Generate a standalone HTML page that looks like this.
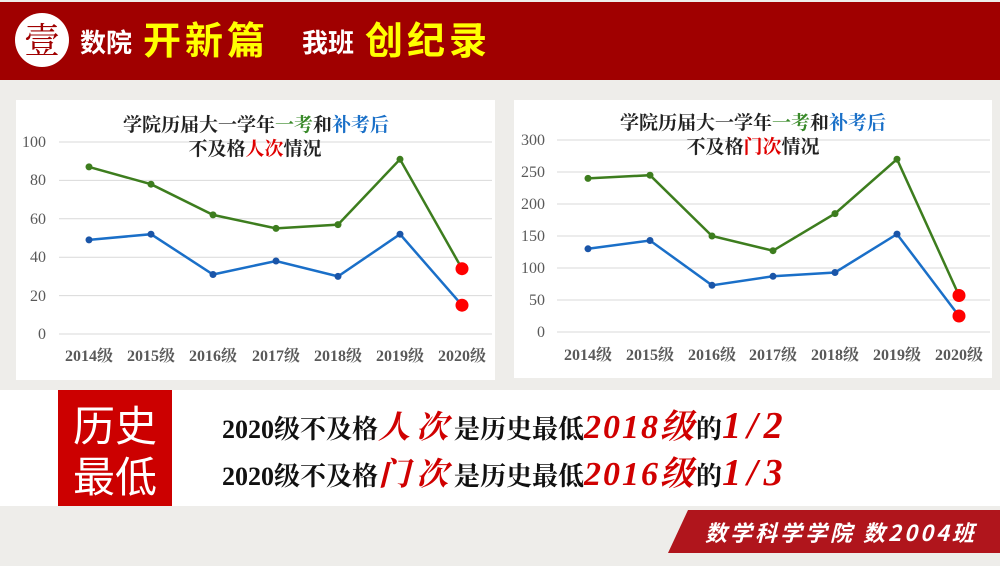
<!DOCTYPE html>
<html><head><meta charset="utf-8"><style>
body{margin:0;width:1000px;height:561px;overflow:hidden;background:#eeedea;font-family:"Liberation Serif","Noto Serif CJK SC",serif}
</style></head><body>
<svg width="1000" height="561" viewBox="0 0 1000 561" xmlns="http://www.w3.org/2000/svg">
<rect x="0" y="0" width="1000" height="561" fill="#eeedea"/>
<rect x="0" y="2" width="1000" height="78" fill="#a00000"/>
<circle cx="42" cy="40" r="27" fill="#fff"/>
<text x="42" y="53" font-size="36" text-anchor="middle" fill="#a00000" font-family="Noto Serif CJK SC,serif">壹</text>
<text x="80" y="52" font-size="26" fill="#fff" font-weight="bold" font-family="Noto Sans CJK SC,sans-serif">数院</text>
<text x="143" y="54" font-size="38" fill="#ffff00" font-weight="bold" font-family="Noto Sans CJK SC,sans-serif" letter-spacing="4">开新篇</text>
<text x="302" y="52" font-size="26" fill="#fff" font-weight="bold" font-family="Noto Sans CJK SC,sans-serif">我班</text>
<text x="365" y="54" font-size="38" fill="#ffff00" font-weight="bold" font-family="Noto Sans CJK SC,sans-serif" letter-spacing="4">创纪录</text>

<!-- left chart -->
<rect x="16" y="100" width="479" height="280" fill="#fff"/>
<g stroke="#d9d9d9" stroke-width="1">
<line x1="59" x2="492" y1="142" y2="142"/><line x1="59" x2="492" y1="180.4" y2="180.4"/><line x1="59" x2="492" y1="218.8" y2="218.8"/><line x1="59" x2="492" y1="257.2" y2="257.2"/><line x1="59" x2="492" y1="295.6" y2="295.6"/><line x1="59" x2="492" y1="334" y2="334"/>
</g>
<g font-size="16" fill="#595959" text-anchor="end">
<text x="46" y="147">100</text><text x="46" y="185">80</text><text x="46" y="224">60</text><text x="46" y="262">40</text><text x="46" y="301">20</text><text x="46" y="339">0</text>
</g>
<g font-size="16" fill="#595959" text-anchor="middle" font-weight="bold">
<text x="89" y="361">2014级</text><text x="151" y="361">2015级</text><text x="213" y="361">2016级</text><text x="276" y="361">2017级</text><text x="338" y="361">2018级</text><text x="400" y="361">2019级</text><text x="462" y="361">2020级</text>
</g>
<text x="256" y="131" font-size="19" font-weight="bold" text-anchor="middle" fill="#222">学院历届大一学年<tspan fill="#3a8a2a">一考</tspan>和<tspan fill="#1a70c8">补考后</tspan></text>
<text x="255" y="155" font-size="19" font-weight="bold" text-anchor="middle" fill="#222">不及格<tspan fill="#e00000">人次</tspan>情况</text>
<polyline fill="none" stroke="#3d7d1e" stroke-width="2.5" points="89,166.9 151,184.2 213,214.9 276,228.4 338,224.6 400,159.3 462,268.7"/>
<polyline fill="none" stroke="#1a6fc8" stroke-width="2.5" points="89,239.9 151,234.2 213,274.5 276,261 338,276.4 400,234.2 462,305.2"/>
<g fill="#3d7d1e"><circle cx="89" cy="166.9" r="3.5"/><circle cx="151" cy="184.2" r="3.5"/><circle cx="213" cy="214.9" r="3.5"/><circle cx="276" cy="228.4" r="3.5"/><circle cx="338" cy="224.6" r="3.5"/><circle cx="400" cy="159.3" r="3.5"/></g>
<g fill="#1a55a8"><circle cx="89" cy="239.9" r="3.5"/><circle cx="151" cy="234.2" r="3.5"/><circle cx="213" cy="274.5" r="3.5"/><circle cx="276" cy="261" r="3.5"/><circle cx="338" cy="276.4" r="3.5"/><circle cx="400" cy="234.2" r="3.5"/></g>
<circle cx="462" cy="268.7" r="6.5" fill="#f00"/><circle cx="462" cy="305.2" r="6.5" fill="#f00"/>

<!-- right chart -->
<rect x="514" y="100" width="478" height="278" fill="#fff"/>
<g stroke="#d9d9d9" stroke-width="1">
<line x1="557" x2="990" y1="140" y2="140"/><line x1="557" x2="990" y1="172" y2="172"/><line x1="557" x2="990" y1="204" y2="204"/><line x1="557" x2="990" y1="236" y2="236"/><line x1="557" x2="990" y1="268" y2="268"/><line x1="557" x2="990" y1="300" y2="300"/><line x1="557" x2="990" y1="332" y2="332"/>
</g>
<g font-size="16" fill="#595959" text-anchor="end">
<text x="545" y="145">300</text><text x="545" y="177">250</text><text x="545" y="209">200</text><text x="545" y="241">150</text><text x="545" y="273">100</text><text x="545" y="305">50</text><text x="545" y="337">0</text>
</g>
<g font-size="16" fill="#595959" text-anchor="middle" font-weight="bold">
<text x="588" y="360">2014级</text><text x="650" y="360">2015级</text><text x="712" y="360">2016级</text><text x="773" y="360">2017级</text><text x="835" y="360">2018级</text><text x="897" y="360">2019级</text><text x="959" y="360">2020级</text>
</g>
<text x="753" y="129" font-size="19" font-weight="bold" text-anchor="middle" fill="#222">学院历届大一学年<tspan fill="#3a8a2a">一考</tspan>和<tspan fill="#1a70c8">补考后</tspan></text>
<text x="753" y="153" font-size="19" font-weight="bold" text-anchor="middle" fill="#222">不及格<tspan fill="#e00000">门次</tspan>情况</text>
<polyline fill="none" stroke="#3d7d1e" stroke-width="2.5" points="588,178.4 650,175.2 712,236 773,250.7 835,213.6 897,159.2 959,295.5"/>
<polyline fill="none" stroke="#1a6fc8" stroke-width="2.5" points="588,248.8 650,240.5 712,285.3 773,276.3 835,272.5 897,234.1 959,316"/>
<g fill="#3d7d1e"><circle cx="588" cy="178.4" r="3.5"/><circle cx="650" cy="175.2" r="3.5"/><circle cx="712" cy="236" r="3.5"/><circle cx="773" cy="250.7" r="3.5"/><circle cx="835" cy="213.6" r="3.5"/><circle cx="897" cy="159.2" r="3.5"/></g>
<g fill="#1a55a8"><circle cx="588" cy="248.8" r="3.5"/><circle cx="650" cy="240.5" r="3.5"/><circle cx="712" cy="285.3" r="3.5"/><circle cx="773" cy="276.3" r="3.5"/><circle cx="835" cy="272.5" r="3.5"/><circle cx="897" cy="234.1" r="3.5"/></g>
<circle cx="959" cy="295.5" r="6.5" fill="#f00"/><circle cx="959" cy="316" r="6.5" fill="#f00"/>

<!-- bottom band -->
<rect x="0" y="390" width="1000" height="116" fill="#fff"/>
<rect x="58" y="390" width="114" height="116" fill="#cc0000"/>
<text x="115" y="441" font-size="42" fill="#fff" text-anchor="middle" font-family="Noto Sans CJK SC,sans-serif">历史</text>
<text x="115" y="492" font-size="42" fill="#fff" text-anchor="middle" font-family="Noto Sans CJK SC,sans-serif">最低</text>
<text x="222" y="438" font-size="26" font-weight="bold" fill="#111">2020级不及格<tspan fill="#d00000" font-style="italic" font-size="32" letter-spacing="6">人次</tspan>是历史最低<tspan fill="#d00000" font-style="italic" font-size="34" letter-spacing="2">2018级</tspan>的<tspan fill="#d00000" font-style="italic" font-size="38" letter-spacing="6">1/2</tspan></text>
<text x="222" y="485" font-size="26" font-weight="bold" fill="#111">2020级不及格<tspan fill="#d00000" font-style="italic" font-size="32" letter-spacing="6">门次</tspan>是历史最低<tspan fill="#d00000" font-style="italic" font-size="34" letter-spacing="2">2016级</tspan>的<tspan fill="#d00000" font-style="italic" font-size="38" letter-spacing="6">1/3</tspan></text>

<polygon points="688,510 1000,510 1000,553 668,553" fill="#b0151c"/>
<text x="705" y="541" font-size="22" fill="#fff" font-style="italic" font-weight="bold" letter-spacing="3" font-family="Noto Sans CJK SC,sans-serif">数学科学学院 数2004班</text>
</svg>
</body></html>
